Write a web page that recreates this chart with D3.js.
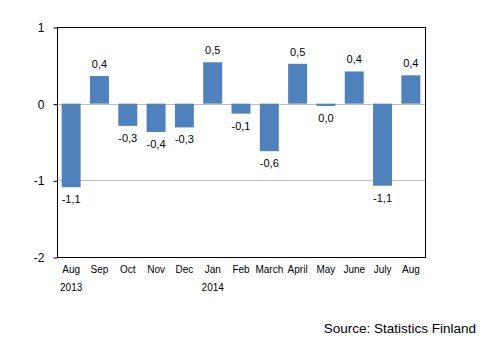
<!DOCTYPE html>
<html>
<head>
<meta charset="utf-8">
<script src="https://cdn.jsdelivr.net/npm/d3@7"></script>
<style>
  body { margin: 0; background: #fff; }
  text { font-family: Arial, "Liberation Sans", sans-serif; }
</style>
</head>
<body>
<svg id="chart" width="496" height="341"></svg>
<script>
let months = ["Aug", "Sep", "Oct", "Nov", "Dec", "Jan", "Feb", "March", "April", "May", "June", "July", "Aug"];
let years = ["2013", "", "", "", "", "2014", "", "", "", "", "", "", ""];
let values = [-1.09, 0.36, -0.29, -0.37, -0.31, 0.54, -0.13, -0.62, 0.52, -0.03, 0.42, -1.07, 0.37];
let yTicks = [1, 0, -1, -2];

let svg = d3.select("#chart");
let margin = { top: 27, right: 71, bottom: 84, left: 57 };
let width = 496 - margin.left - margin.right;
let height = 341 - margin.top - margin.bottom;

let fi = d3.formatLocale({ decimal: ",", thousands: " ", grouping: [3], currency: ["", " €"], minus: "-" });
let fmt = fi.format(".1f");

let x = d3
  .scaleBand()
  .domain(d3.range(months.length))
  .range([0, width])
  .paddingInner(0.33)
  .paddingOuter(0.165);

let y = d3.scaleLinear().domain([-2, 1]).range([height, 0]);

let g = svg
  .append("g")
  .attr("transform", `translate(${margin.left}, ${margin.top})`);

// gridlines
g.selectAll("line.grid")
  .data(yTicks.filter((d) => d > -2 && d < 1))
  .enter()
  .append("line")
  .attr("class", "grid")
  .attr("x1", 0)
  .attr("x2", width)
  .attr("y1", (d) => Math.round(y(d)) + 0.5)
  .attr("y2", (d) => Math.round(y(d)) + 0.5)
  .attr("stroke", "#bfbfbf")
  .attr("stroke-width", 1);

// bars
g.selectAll("rect.bar")
  .data(values)
  .enter()
  .append("rect")
  .attr("class", "bar")
  .attr("x", (d, i) => x(i))
  .attr("width", x.bandwidth())
  .attr("y", (d) => y(Math.max(0, d)))
  .attr("height", (d) => Math.abs(y(d) - y(0)))
  .attr("fill", "#4f81bd");

// frame
g.append("rect")
  .attr("x", 0.5)
  .attr("y", 0.5)
  .attr("width", width)
  .attr("height", height)
  .attr("fill", "none")
  .attr("stroke", "#000")
  .attr("stroke-width", 1);

// y axis
let yAxis = g
  .append("g")
  .attr("transform", "translate(0.5, 0.5)")
  .call(d3.axisLeft(y).tickValues(yTicks).tickSize(4).tickPadding(9).tickFormat((d) => d));
yAxis.select(".domain").remove();
yAxis.selectAll("line").attr("stroke", "#000");
yAxis.selectAll("text").attr("font-size", 12).attr("fill", "#000").attr("font-family", "Arial, 'Liberation Sans', sans-serif");

// x axis month labels
let xAxis = g
  .append("g")
  .attr("transform", `translate(0, ${height})`)
  .call(d3.axisBottom(x).tickSize(0).tickPadding(9).tickFormat((i) => months[i]));
xAxis.select(".domain").remove();
xAxis.selectAll("text").attr("font-size", 10).attr("fill", "#000").attr("font-family", "Arial, 'Liberation Sans', sans-serif");

let yearAxis = g
  .append("g")
  .attr("transform", `translate(0, ${height + 18})`)
  .call(d3.axisBottom(x).tickSize(0).tickPadding(9).tickFormat((i) => years[i]));
yearAxis.select(".domain").remove();
yearAxis.selectAll("text").attr("font-size", 10).attr("fill", "#000").attr("font-family", "Arial, 'Liberation Sans', sans-serif");

// data labels
g.selectAll("text.label")
  .data(values)
  .enter()
  .append("text")
  .attr("class", "label")
  .attr("text-anchor", "middle")
  .attr("x", (d, i) => x(i) + x.bandwidth() / 2)
  .attr("y", (d) => (d >= 0 ? y(d) - 8 : y(d) + 16))
  .attr("font-size", 11)
  .attr("fill", "#000")
  .text((d) => fmt(d));

svg
  .append("text")
  .attr("x", 476)
  .attr("y", 333)
  .attr("text-anchor", "end")
  .attr("font-size", 13.5)
  .attr("fill", "#000")
  .text("Source: Statistics Finland");
</script>
</body>
</html>
